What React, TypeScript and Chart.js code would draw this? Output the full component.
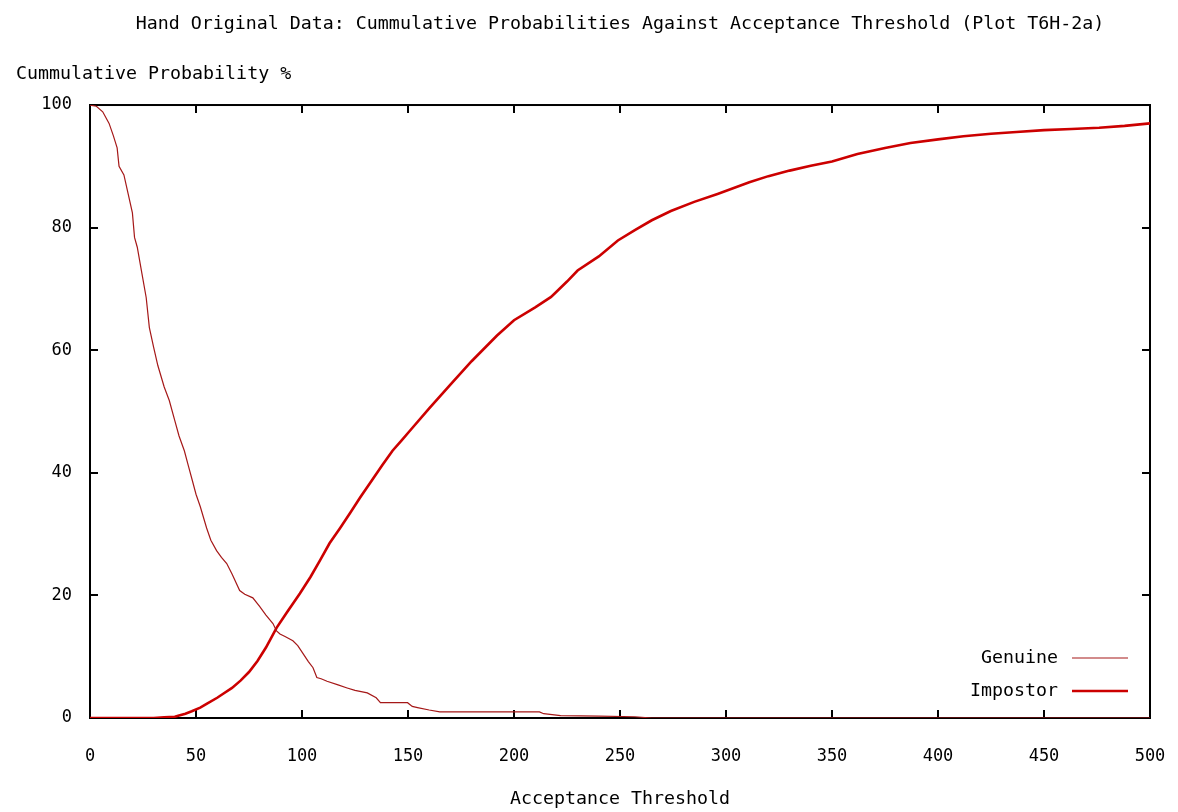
import React, { useEffect, useRef } from 'react';
import { Chart, registerables } from 'chart.js';

Chart.register(...registerables);

// Acceptance thresholds / cumulative probabilities (%)
const genuineX = [0, 3, 6, 9, 11, 12.8, 13.7, 16, 18, 20, 21, 22.3, 24.5, 26.5, 28, 30, 32, 35, 37.4, 40, 42, 44.5, 46.5, 48.3, 50, 52, 55, 57, 59.7, 62, 64.5, 67, 70.6, 73, 76.8, 80, 83, 86.3, 88, 89.6, 92, 95.7, 98, 100.5, 103, 105.2, 107, 109, 111.8, 117, 121.3, 125, 130.8, 135, 137, 149.8, 152, 154.5, 160, 165, 212, 214, 222, 240, 257, 265, 500];
const genuineY = [100, 99.8, 98.9, 97, 95, 93, 90, 88.6, 85.5, 82.4, 78.4, 76.8, 72.5, 68.6, 63.7, 60.5, 57.5, 54, 51.8, 48.5, 46, 43.6, 41, 38.7, 36.5, 34.5, 31, 29, 27.3, 26.2, 25.2, 23.5, 20.8, 20.2, 19.6, 18.2, 16.8, 15.4, 14.2, 13.7, 13.3, 12.6, 11.8, 10.5, 9.2, 8.2, 6.6, 6.4, 6.0, 5.4, 4.9, 4.5, 4.1, 3.3, 2.5, 2.5, 1.9, 1.7, 1.3, 1.0, 1.0, 0.7, 0.4, 0.3, 0.2, 0, 0];

const impostorX = [0, 30, 35, 40, 42, 45, 48, 52, 55, 60, 63, 67, 71, 75, 79, 83, 88, 93, 99, 104, 108.5, 113, 118, 123, 127.5, 133, 138, 142.7, 147, 151, 160, 170, 180, 192, 200, 210, 217.5, 225, 230, 240, 249, 257, 265, 274, 285, 296, 311, 320, 330, 340, 350, 362, 375, 387, 400, 412, 425, 437, 450, 463, 476, 488, 500];
const impostorY = [0, 0, 0.1, 0.2, 0.4, 0.7, 1.1, 1.7, 2.3, 3.3, 4.0, 4.9, 6.1, 7.5, 9.3, 11.5, 14.7, 17.3, 20.3, 23, 25.7, 28.5, 31, 33.6, 36, 38.8, 41.3, 43.6, 45.3, 46.9, 50.5, 54.4, 58.2, 62.4, 64.9, 67, 68.7, 71.2, 73, 75.3, 77.9, 79.6, 81.2, 82.7, 84.2, 85.5, 87.4, 88.4, 89.3, 90.1, 90.8, 92, 93, 93.8, 94.4, 94.9, 95.3, 95.6, 95.9, 96.1, 96.3, 96.6, 97];

const xTicks = [0, 50, 100, 150, 200, 250, 300, 350, 400, 450, 500];
const yTicks = [0, 20, 40, 60, 80, 100];

const seriesLabels = ['Genuine', 'Impostor'];

const FONT = '"DejaVu Sans Mono", "Liberation Mono", monospace';
const TEXT_SIZE = 18.3;

const framePlugin = {
  id: 'gnuFrame',
  beforeDatasetsDraw(chart: any) {
    const { ctx, chartArea } = chart;
    const { left, right, top, bottom } = chartArea;
    const x = chart.scales.x;
    const y = chart.scales.y;
    ctx.save();
    ctx.strokeStyle = '#000';
    ctx.lineWidth = 2;
    ctx.strokeRect(left, top, right - left, bottom - top);
    const L = 8;
    ctx.beginPath();
    x.ticks.forEach((t: any) => {
      const px = Math.round(x.getPixelForValue(t.value));
      ctx.moveTo(px, bottom);
      ctx.lineTo(px, bottom - L);
      ctx.moveTo(px, top);
      ctx.lineTo(px, top + L);
    });
    y.ticks.forEach((t: any) => {
      const py = Math.round(y.getPixelForValue(t.value));
      ctx.moveTo(left, py);
      ctx.lineTo(left + L, py);
      ctx.moveTo(right, py);
      ctx.lineTo(right - L, py);
    });
    ctx.stroke();
    ctx.restore();
  },
};

const keyPlugin = {
  id: 'gnuKey',
  afterDatasetsDraw(chart: any) {
    const { ctx, chartArea } = chart;
    const { right, bottom } = chartArea;
    ctx.save();
    ctx.font = `${TEXT_SIZE}px ${FONT}`;
    ctx.fillStyle = '#000';
    ctx.textAlign = 'right';
    ctx.textBaseline = 'middle';
    chart.data.datasets.forEach((ds: any, i: number) => {
      const yy = bottom - 60 + i * 33;
      ctx.fillText(ds.label, right - 92, yy);
      ctx.beginPath();
      ctx.strokeStyle = ds.borderColor;
      ctx.lineWidth = ds.borderWidth;
      ctx.moveTo(right - 78, yy);
      ctx.lineTo(right - 22, yy);
      ctx.stroke();
    });
    ctx.restore();
  },
};

export default function App() {
  const ref = useRef<HTMLCanvasElement | null>(null);

  useEffect(() => {
    if (!ref.current) return;
    const chart = new Chart(ref.current, {
      type: 'line',
      data: {
        datasets: [
          {
            label: seriesLabels[0],
            data: genuineX.map((v, i) => ({ x: v, y: genuineY[i] })),
            borderColor: '#a51818',
            borderWidth: 1.2,
            pointRadius: 0,
            tension: 0,
            fill: false,
          },
          {
            label: seriesLabels[1],
            data: impostorX.map((v, i) => ({ x: v, y: impostorY[i] })),
            borderColor: '#cc0000',
            borderWidth: 2.6,
            pointRadius: 0,
            tension: 0,
            fill: false,
          },
        ],
      },
      options: {
        animation: false,
        responsive: false,
        layout: { padding: { left: 16, right: 28, top: 0, bottom: 0 } },
        plugins: {
          legend: { display: false },
          tooltip: { enabled: false },
          title: {
            display: true,
            fullSize: false,
            text: 'Hand Original Data: Cummulative Probabilities Against Acceptance Threshold (Plot T6H-2a)',
            color: '#000',
            font: { family: FONT, size: TEXT_SIZE, weight: 'normal', lineHeight: 1.2 },
            padding: { top: 13, bottom: 28 },
          },
          subtitle: {
            display: true,
            text: 'Cummulative Probability %',
            align: 'start',
            color: '#000',
            font: { family: FONT, size: TEXT_SIZE, weight: 'normal', lineHeight: 1.2 },
            padding: { top: 0, bottom: 20.1 },
          },
        },
        scales: {
          x: {
            type: 'linear',
            min: 0,
            max: 500,
            afterBuildTicks: (s: any) => {
              s.ticks = xTicks.map((v) => ({ value: v }));
            },
            afterFit: (s: any) => {
              s.height = 94;
              s.paddingLeft = 0;
              s.paddingRight = 0;
            },
            grid: { display: false, drawTicks: false },
            border: { display: false },
            ticks: {
              color: '#000',
              padding: 28,
              maxRotation: 0,
              font: { family: FONT, size: 17 },
            },
            title: {
              display: true,
              text: 'Acceptance Threshold',
              color: '#000',
              font: { family: FONT, size: TEXT_SIZE, lineHeight: 1.2 },
              padding: { top: 0, bottom: 2 },
            },
          },
          y: {
            type: 'linear',
            min: 0,
            max: 100,
            afterBuildTicks: (s: any) => {
              s.ticks = yTicks.map((v) => ({ value: v }));
            },
            afterFit: (s: any) => {
              s.width = 74;
            },
            grid: { display: false, drawTicks: false },
            border: { display: false },
            ticks: {
              color: '#000',
              padding: 18,
              font: { family: FONT, size: 17 },
            },
          },
        },
      },
      plugins: [framePlugin, keyPlugin],
    } as any);
    return () => chart.destroy();
  }, []);

  return (
    <div style={{ position: 'fixed', left: 0, top: 0, width: 1178, height: 812, background: '#fff' }}>
      <canvas ref={ref} width={1178} height={812} style={{ width: 1178, height: 812, display: 'block' }} />
    </div>
  );
}
